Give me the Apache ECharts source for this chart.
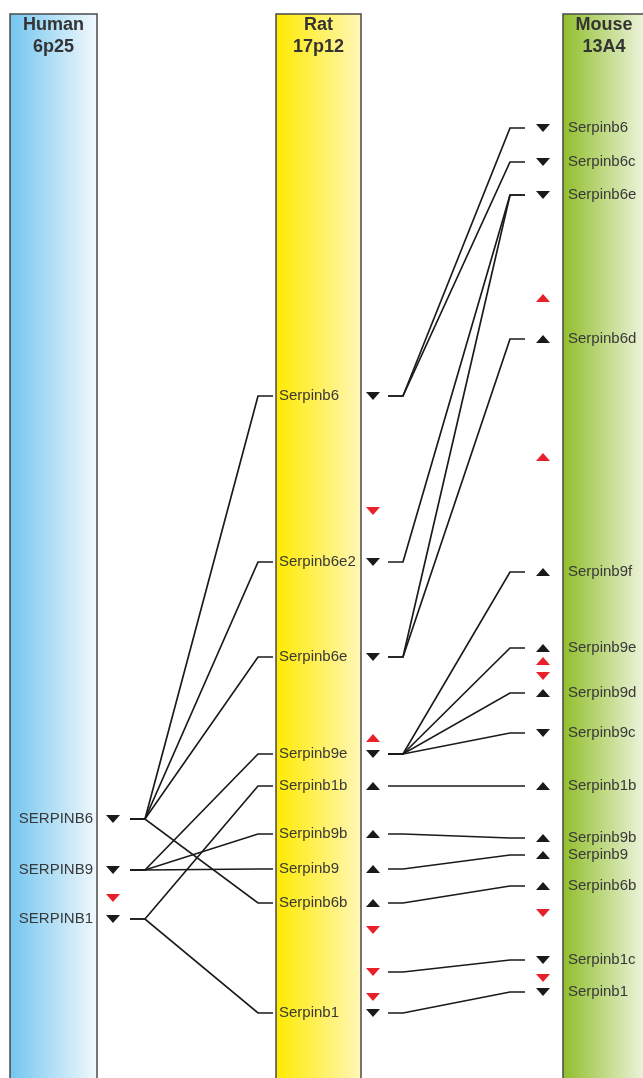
<!DOCTYPE html>
<html>
<head>
<meta charset="utf-8">
<script src="https://cdn.jsdelivr.net/npm/echarts@6/dist/echarts.min.js"></script>
<style>
html,body{margin:0;padding:0;background:#fff;}
#chart{width:643px;height:1078px;}
</style>
</head>
<body>
<div id="chart"></div>
<script>
// chromosome tracks
var species = ['Human', 'Rat', 'Mouse'];
var bands = ['6p25', '17p12', '13A4'];

// human 6p25
var humanGenes = ['SERPINB6', 'SERPINB9', 'SERPINB1'];
var humanPos = [819, 870, 919];
var humanStrand = ['-', '-', '-'];
var humanOtherPos = [898];
var humanOtherStrand = ['-'];

// rat 17p12
var ratGenes = ['Serpinb6', 'Serpinb6e2', 'Serpinb6e', 'Serpinb9e', 'Serpinb1b', 'Serpinb9b', 'Serpinb9', 'Serpinb6b', 'Serpinb1'];
var ratPos = [396, 562, 657, 754, 786, 834, 869, 903, 1013];
var ratStrand = ['-', '-', '-', '-', '+', '+', '+', '+', '-'];
var ratOtherPos = [511, 738, 930, 972, 997];
var ratOtherStrand = ['-', '+', '-', '-', '-'];

// mouse 13A4
var mouseGenes = ['Serpinb6', 'Serpinb6c', 'Serpinb6e', 'Serpinb6d', 'Serpinb9f', 'Serpinb9e', 'Serpinb9d', 'Serpinb9c', 'Serpinb1b', 'Serpinb9b', 'Serpinb9', 'Serpinb6b', 'Serpinb1c', 'Serpinb1'];
var mousePos = [128, 162, 195, 339, 572, 648, 693, 733, 786, 838, 855, 886, 960, 992];
var mouseStrand = ['-', '-', '-', '+', '+', '+', '+', '-', '+', '+', '+', '+', '-', '-'];
var mouseOtherPos = [298, 457, 661, 676, 913, 978];
var mouseOtherStrand = ['+', '+', '+', '-', '-', '-'];

// orthology links [from position, to position]
var humanRatLinks = [[819, 396], [819, 562], [819, 657], [819, 903], [870, 754], [870, 834], [870, 869], [919, 786], [919, 1013]];
var ratMouseLinks = [[396, 128], [396, 162], [562, 195], [657, 195], [657, 339], [754, 572], [754, 648], [754, 693], [754, 733],
    [786, 786], [834, 838], [869, 855], [903, 886], [972, 960], [1013, 992]];

// layout
var W = 643, H = 1078;
var trackX = [[10, 97], [276, 361], [563, 652]];
var trackTop = 14, trackBottom = 1100;
var trackColors = [['#72c5ef', '#f3f9fd'], ['#ffea00', '#fff7b8'], ['#90be2a', '#f6f9ee']];
var arrowX = [113, 373, 543];
var FONT = '"Liberation Sans", Arial, sans-serif';

var chart = echarts.init(document.getElementById('chart'));

function arrows(x, pos, strand) {
    return pos.map(function (y, i) {
        return {value: [x, y], symbolRotate: strand[i] === '-' ? 180 : 0};
    });
}

function labels(x, names, pos, align) {
    return names.map(function (n, i) { return [x, pos[i], n, align]; });
}

function links(list, x0, x1, x2, x3) {
    return list.map(function (l) {
        return {coords: [[x0, l[0]], [x1, l[0]], [x2, l[1]], [x3, l[1]]]};
    });
}

var blackArrows = [].concat(
    arrows(arrowX[0], humanPos, humanStrand),
    arrows(arrowX[1], ratPos, ratStrand),
    arrows(arrowX[2], mousePos, mouseStrand)
);
var redArrows = [].concat(
    arrows(arrowX[0], humanOtherPos, humanOtherStrand),
    arrows(arrowX[1], ratOtherPos, ratOtherStrand),
    arrows(arrowX[2], mouseOtherPos, mouseOtherStrand)
);

var linkData = [].concat(
    links(humanRatLinks, 130, 145, 258, 273),
    links(ratMouseLinks, 388, 403, 510, 525)
);

var option = {
    backgroundColor: '#fff',
    animation: false,
    grid: {left: 0, right: 0, top: 0, bottom: 0},
    xAxis: {type: 'value', min: 0, max: W, show: false},
    yAxis: {type: 'value', min: 0, max: H, inverse: true, show: false},
    series: [
        {
            // chromosome bars with titles
            type: 'custom',
            clip: false,
            silent: true,
            data: species.map(function (s, i) { return [i]; }),
            renderItem: function (params, api) {
                var i = api.value(0);
                var p0 = api.coord([trackX[i][0], trackTop]);
                var p1 = api.coord([trackX[i][1], trackBottom]);
                var cx = i === 2 ? p0[0] + 41 : (p0[0] + p1[0]) / 2;
                return {
                    type: 'group',
                    children: [
                        {
                            type: 'rect',
                            shape: {x: p0[0], y: p0[1], width: p1[0] - p0[0], height: p1[1] - p0[1]},
                            style: {
                                fill: new echarts.graphic.LinearGradient(0, 0, 1, 0, [
                                    {offset: 0, color: trackColors[i][0]},
                                    {offset: 1, color: trackColors[i][1]}
                                ]),
                                stroke: '#4a4a4a',
                                lineWidth: 1.5
                            }
                        },
                        {
                            type: 'text',
                            style: {text: species[i], x: cx, y: p0[1] + 11, fill: '#333', font: 'bold 18px ' + FONT,
                                align: 'center', verticalAlign: 'middle', textAlign: 'center', textVerticalAlign: 'middle'}
                        },
                        {
                            type: 'text',
                            style: {text: bands[i], x: cx, y: p0[1] + 33, fill: '#333', font: 'bold 18px ' + FONT,
                                align: 'center', verticalAlign: 'middle', textAlign: 'center', textVerticalAlign: 'middle'}
                        }
                    ]
                };
            }
        },
        {
            type: 'lines',
            coordinateSystem: 'cartesian2d',
            polyline: true,
            silent: true,
            data: linkData,
            lineStyle: {color: '#1a1a1a', width: 1.7, opacity: 1}
        },
        {
            type: 'scatter',
            symbol: 'triangle',
            symbolSize: [14, 8],
            silent: true,
            itemStyle: {color: '#1a1a1a', opacity: 1},
            data: blackArrows
        },
        {
            type: 'scatter',
            symbol: 'triangle',
            symbolSize: [14, 8],
            silent: true,
            itemStyle: {color: '#e8202a', opacity: 1},
            data: redArrows
        },
        {
            // gene labels
            type: 'custom',
            clip: false,
            silent: true,
            dimensions: ['x', 'y', {name: 'name', type: 'ordinal'}, {name: 'align', type: 'ordinal'}],
            data: [].concat(
                labels(93, humanGenes, humanPos, 'right'),
                labels(279, ratGenes, ratPos, 'left'),
                labels(568, mouseGenes, mousePos, 'left')
            ),
            renderItem: function (params, api) {
                var p = api.coord([api.value(0), api.value(1)]);
                return {
                    type: 'text',
                    style: {
                        text: api.value(2), x: p[0], y: p[1], fill: '#383838', font: '15px ' + FONT,
                        align: api.value(3), verticalAlign: 'middle',
                        textAlign: api.value(3), textVerticalAlign: 'middle'
                    }
                };
            }
        }
    ]
};

chart.setOption(option);
</script>
</body>
</html>
